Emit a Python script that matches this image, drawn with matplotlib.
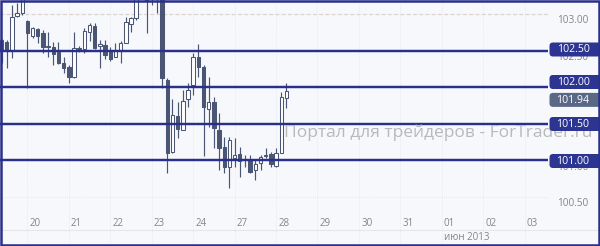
import matplotlib
matplotlib.use("Agg")
import matplotlib.pyplot as plt
from matplotlib.patches import Rectangle, FancyBboxPatch

# ---------------- data ----------------
opens = [102.64, 102.62, 102.51, 102.97, 103.01, 102.90, 102.70, 102.79, 102.74, 102.56,
         102.55, 102.48, 102.33, 102.27, 102.14, 102.52, 102.52, 102.75, 102.84, 102.56,
         102.58, 102.51, 102.41, 102.51, 102.60, 102.86, 102.95, 103.30, 103.30, 103.25,
         103.30, 103.25, 102.10, 101.11, 101.60, 101.41, 101.84, 102.03, 102.41, 102.27,
         101.70, 101.79, 101.41, 101.18, 100.90, 101.03, 101.08, 101.01, 101.00, 100.86,
         100.96, 101.05, 101.08, 100.92, 101.10, 101.85]
highs = [102.66, 102.64, 103.12, 103.15, 103.30, 102.92, 102.82, 102.81, 102.78, 102.75,
         102.62, 102.62, 102.41, 102.30, 102.75, 102.56, 102.81, 102.88, 102.88, 102.64,
         102.64, 102.55, 102.60, 102.63, 102.96, 102.96, 103.30, 103.40, 103.32, 103.35,
         103.35, 103.30, 102.12, 101.84, 101.79, 101.96, 102.05, 102.47, 102.59, 102.30,
         102.14, 101.86, 101.64, 101.32, 101.32, 101.30, 101.18, 101.07, 101.07, 101.00,
         101.07, 101.16, 101.11, 101.16, 101.93, 102.05]
lows = [102.33, 102.26, 102.40, 102.96, 102.98, 101.99, 102.67, 102.60, 102.47, 102.41,
        102.30, 102.31, 102.19, 102.05, 102.13, 102.48, 102.47, 102.63, 102.52, 102.26,
        102.38, 102.36, 102.41, 102.33, 102.60, 102.75, 102.92, 103.22, 102.74, 103.12,
        103.01, 101.99, 100.82, 101.10, 101.30, 101.41, 101.73, 101.89, 102.14, 101.05,
        101.45, 101.16, 100.86, 100.82, 100.62, 100.90, 100.77, 100.90, 100.82, 100.73,
        100.86, 101.03, 100.90, 100.90, 101.10, 101.71]
closes = [102.51, 102.51, 102.96, 103.01, 103.25, 102.74, 102.81, 102.70, 102.55, 102.55,
          102.45, 102.33, 102.26, 102.14, 102.53, 102.53, 102.77, 102.85, 102.53, 102.59,
          102.44, 102.38, 102.51, 102.60, 102.89, 102.95, 103.25, 103.35, 103.18, 103.30,
          103.25, 102.12, 101.10, 101.62, 101.42, 101.81, 101.96, 102.41, 102.27, 101.73,
          101.79, 101.44, 101.16, 100.90, 101.27, 101.07, 100.99, 101.00, 100.84, 100.95,
          101.04, 101.06, 100.95, 101.10, 101.86, 101.94]

day_labels = ["20", "21", "22", "23", "24", "27", "28", "29", "30", "31", "01", "02", "03"]
day_start = [7, 15, 23, 31, 39, 47, 55, 63, 71, 79, 87, 95, 103]
month_label = "июн 2013"
month_day = "01"

level_lines = [102.50, 102.00, 101.50, 101.00]
last_price = 101.94
grid_levels = [103.00, 102.50, 102.00, 101.50, 101.00, 100.50]
axis_ticks = [103.00, 102.50, 101.00, 100.50]   # grey labels that remain visible
dashed_level = 103.00
watermark = "Портал для трейдеров - ForTrader.ru"

# ---------------- style ----------------
BG = "#f7f8fb"
CANDLE = "#4b5675"
NAVY = "#29308c"
BOX_NAVY = "#2c3592"
BOX_LAST = "#5a6886"
GREY = "#858585"
FONT = ["Open Sans", "DejaVu Sans"]

W, H = 600, 246
fig = plt.figure(figsize=(W / 100, H / 100), dpi=100)
fig.patch.set_facecolor(BG)

ax = fig.add_axes([0, 0, 1, 1])
ax.set_facecolor(BG)
ax.axis("off")
px_per_bar = 5.18
ax.set_xlim((0 - 1.5) / px_per_bar, (W - 1.5) / px_per_bar)
ax.set_ylim(103 - (H - 14) / 73.0, 103 + 14 / 73.0)

plot_right = (548 - 1.5) / px_per_bar
plot_left = ax.get_xlim()[0]

ov = fig.add_axes([0, 0, 1, 1], zorder=5)
ov.set_xlim(0, W)
ov.set_ylim(H, 0)
ov.axis("off")
ov.patch.set_alpha(0)


def img_y(price):
    yd = ax.transData.transform((0, price))[1]
    return ov.transData.inverted().transform((0, yd))[1]


def img_x(idx):
    xd = ax.transData.transform((idx, 0))[0]
    return ov.transData.inverted().transform((xd, 0))[0]


# faint grid
for p in grid_levels:
    ax.hlines(p, plot_left, plot_right, color="#e3e5ec", lw=0.6, ls=(0, (1, 1.5)), zorder=0)
for s in day_start:
    ax.vlines(s - 2.0, ax.get_ylim()[0], ax.get_ylim()[1], color="#e3e5ec", lw=0.6,
              ls=(0, (1, 1.5)), zorder=0)

ax.hlines(dashed_level, plot_left, plot_right, color="#ddd2cf", lw=0.9, ls=(0, (3, 2)), zorder=1)

# candles
for i, (o, h, l, c) in enumerate(zip(opens, highs, lows, closes)):
    ax.vlines(i, l, h, color=CANDLE, lw=0.85, zorder=2)
    bottom = min(o, c)
    height = max(abs(c - o), 0.012)
    fc = "white" if c >= o else CANDLE
    ax.bar(i, height, bottom=bottom, width=0.66, color=fc, edgecolor=CANDLE,
           linewidth=0.75, zorder=3)

ax.hlines(level_lines, plot_left, plot_right, color=NAVY, lw=1.75, zorder=4)

ax.text((284 - 1.5) / px_per_bar, 101.37, watermark, fontsize=12.5, color="#b9b9b9",
        family=FONT, ha="left", va="center", zorder=4)

for p in axis_ticks:
    ov.text(573, img_y(p) + 7, f"{p:.2f}", fontsize=7.2, color=GREY, family=FONT,
            ha="center", va="center", zorder=6)

box_specs = [(102.50, BOX_NAVY, -1), (102.00, BOX_NAVY, -5), (101.50, BOX_NAVY, 0.5),
             (101.00, BOX_NAVY, 1), (last_price, BOX_LAST, 8.5)]
for p, col, off in box_specs:
    yc = img_y(p) + off
    ov.add_patch(FancyBboxPatch((549.5, yc - 7), 52, 14,
                                boxstyle="round,pad=0,rounding_size=3.5",
                                fc=col, ec="none", zorder=7))
    ov.text(573, yc + 0.3, f"{p:.2f}", fontsize=7.6, color="white", family=FONT,
            ha="center", va="center", zorder=8)

for lab, s in zip(day_labels, day_start):
    ov.text(img_x(s - 0.5), 223, lab, fontsize=7, color=GREY, family=FONT,
            ha="center", va="center")
ov.hlines(230, 0, W, color="#e6e6e6", lw=0.8)
ms = day_start[day_labels.index(month_day)]
ov.text(img_x(ms) + 15, 237.5, month_label, fontsize=7, color=GREY, family=FONT,
        ha="center", va="center")

ov.add_patch(Rectangle((1.25, 1.25), W - 2.5, H - 2.5, fill=False, ec=NAVY, lw=1.8, zorder=10))

fig.savefig("out.png", dpi=100, facecolor=BG)
